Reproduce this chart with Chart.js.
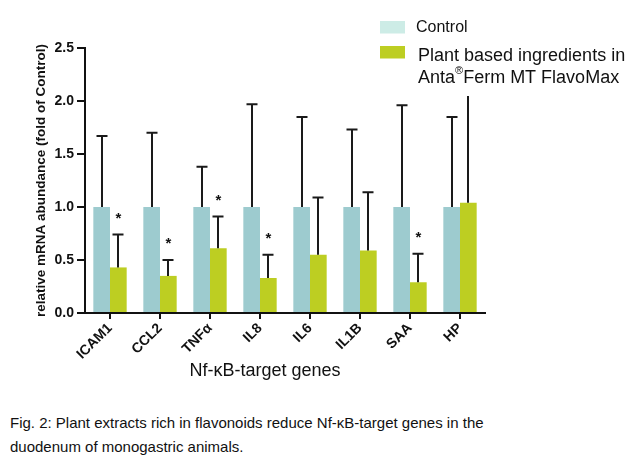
<!DOCTYPE html>
<html><head><meta charset="utf-8">
<script src="https://cdn.jsdelivr.net/npm/chart.js@4.4.1/dist/chart.umd.min.js"></script>
<style>
html,body{margin:0;padding:0;background:#fff;}
#wrap{position:relative;width:640px;height:466px;overflow:hidden;background:#fff;}
canvas{position:absolute;left:0;top:0;}
#cap{position:absolute;left:10px;top:411px;font-family:"Liberation Sans",Arial,sans-serif;font-size:15px;line-height:24px;color:#111;white-space:nowrap;}
</style></head>
<body><div id="wrap"><canvas id="c" width="640" height="400"></canvas>
<div id="cap">Fig. 2: Plant extracts rich in flavonoids reduce Nf-κB-target genes in the<br>duodenum of monogastric animals.</div></div>
<script>
const genes = ['ICAM1','CCL2','TNFα','IL8','IL6','IL1B','SAA','HP'];
const controlMean = [1,1,1,1,1,1,1,1];
const controlErrTop = [1.67,1.70,1.38,1.97,1.85,1.73,1.96,1.85];
const plantMean = [0.43,0.35,0.61,0.33,0.55,0.59,0.29,1.04];
const plantErrTop = [0.74,0.50,0.91,0.55,1.09,1.14,0.56,2.10];
const significant = [true,true,true,true,false,false,true,false];
const yTicks = [0,0.5,1.0,1.5,2.0,2.5];
const seriesNames = ['Control','Plant based ingredients in'];

const FONT = '"Liberation Sans", Arial, sans-serif';
const controlColor = '#9dcbcf';
const controlLegendColor = '#cdece6';
const plantColor = '#bdce22';
const ink = '#111';

const overlay = {
  id: 'overlay',
  afterDatasetsDraw(chart) {
    const ctx = chart.ctx, ys = chart.scales.y;
    const means = [controlMean, plantMean];
    const errs = [controlErrTop, plantErrTop];
    ctx.save();
    ctx.strokeStyle = '#1a1a1a';
    ctx.lineWidth = 2;
    [0, 1].forEach(di => {
      chart.getDatasetMeta(di).data.forEach((bar, i) => {
        const x = Math.round(bar.x);
        const y0 = ys.getPixelForValue(means[di][i]);
        const y1 = ys.getPixelForValue(errs[di][i]);
        ctx.beginPath();
        ctx.moveTo(x, y0); ctx.lineTo(x, y1);
        ctx.moveTo(x - 5.5, y1); ctx.lineTo(x + 5.5, y1);
        ctx.stroke();
      });
    });
    ctx.fillStyle = ink;
    ctx.font = 'bold 15px ' + FONT;
    ctx.textAlign = 'center';
    ctx.textBaseline = 'alphabetic';
    chart.getDatasetMeta(1).data.forEach((bar, i) => {
      if (!significant[i]) return;
      const y1 = ys.getPixelForValue(plantErrTop[i]);
      ctx.fillText('*', bar.x, y1 - 21 + 9);
    });
    ctx.restore();
  },
  afterDraw(chart) {
    const ctx = chart.ctx;
    ctx.save();
    ctx.fillStyle = '#fff';
    ctx.fillRect(372, 0, 268, 96);
    ctx.fillStyle = controlLegendColor;
    ctx.fillRect(380, 21, 25, 12.5);
    ctx.fillStyle = plantColor;
    ctx.fillRect(380, 46, 25, 12.5);
    ctx.fillStyle = ink;
    ctx.textAlign = 'left';
    ctx.textBaseline = 'middle';
    ctx.font = '16px ' + FONT;
    ctx.fillText(seriesNames[0], 416, 27.5);
    ctx.font = '18px ' + FONT;
    ctx.fillText(seriesNames[1], 418, 56);
    let x = 418;
    ctx.fillText('Anta', x, 78.5); x += ctx.measureText('Anta').width;
    ctx.font = '11px ' + FONT;
    ctx.fillText('®', x, 71); x += ctx.measureText('®').width;
    ctx.font = '18px ' + FONT;
    ctx.fillText('Ferm MT FlavoMax', x, 78.5);
    ctx.font = '18px ' + FONT;
    ctx.textAlign = 'center';
    ctx.fillText('Nf-κB-target genes', 265, 371);
    ctx.restore();
  }
};

new Chart(document.getElementById('c'), {
  type: 'bar',
  data: {
    labels: genes,
    datasets: [
      { label: seriesNames[0], data: controlMean, backgroundColor: controlColor, borderWidth: 0 },
      { label: seriesNames[1], data: plantMean, backgroundColor: plantColor, borderWidth: 0 }
    ]
  },
  options: {
    responsive: false,
    animation: false,
    devicePixelRatio: 1,
    categoryPercentage: 0.667,
    barPercentage: 1.0,
    layout: { padding: { left: 0, top: 48, right: 155, bottom: 27 } },
    plugins: { legend: { display: false }, tooltip: { enabled: false } },
    scales: {
      x: {
        ticks: { autoSkip: false, maxRotation: 45, minRotation: 45, color: ink, padding: 1,
                 font: { family: FONT, size: 14, weight: 'bold' } },
        grid: { drawOnChartArea: false, offset: false, drawTicks: true, tickLength: 6, color: ink, lineWidth: 2 },
        border: { display: true, color: ink, width: 2 },
        afterFit: s => { s.height = 60; }
      },
      y: {
        min: 0, max: 2.5,
        afterBuildTicks: s => { s.ticks = yTicks.map(v => ({ value: v })); },
        ticks: { callback: v => Number(v).toFixed(1), color: ink, padding: 3,
                 font: { family: FONT, size: 14, weight: 'bold' } },
        grid: { drawOnChartArea: false, drawTicks: true, tickLength: 8, color: ink, lineWidth: 2 },
        border: { display: true, color: ink, width: 2 },
        title: { display: true, text: 'relative mRNA abundance (fold of Control)', color: ink,
                 font: { family: FONT, size: 13.5, weight: 'bold' }, padding: { top: 33, bottom: 0 } },
        afterFit: s => { s.width = 85; }
      }
    }
  },
  plugins: [overlay]
});
</script>
</body></html>
